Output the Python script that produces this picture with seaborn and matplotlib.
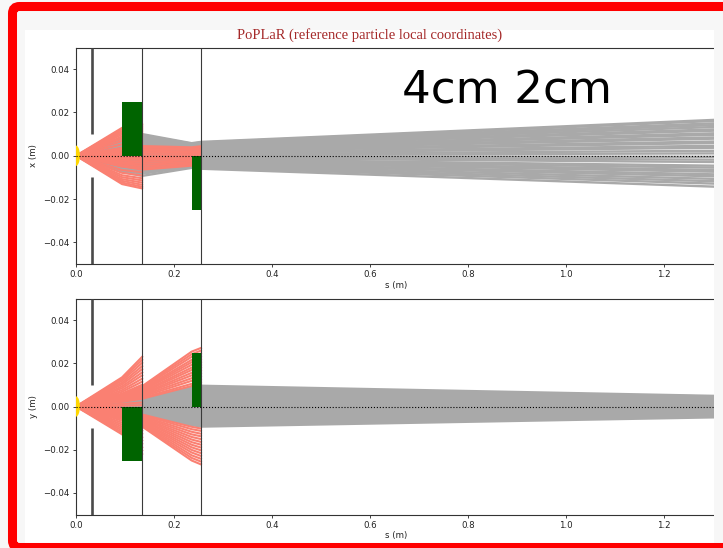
import matplotlib
matplotlib.use("Agg")
import matplotlib.pyplot as plt
from matplotlib.patches import Rectangle, Ellipse, FancyBboxPatch
from matplotlib.transforms import IdentityTransform
import pandas as pd
import seaborn as sns

# Longitudinal sampling points along the beamline (m)
s_nodes = [0.0, 0.094, 0.135, 0.236, 0.255, 1.306]

# Horizontal offsets (mm) at s_nodes[1:] for particles transported to the end
x_kept_mm = [
    [8.0, 10.0, 5.8, 6.4, 16.6],
    [7.6, 9.5, 5.6, 6.1, 16.1],
    [7.1, 8.9, 5.3, 5.8, 15.0],
    [6.8, 8.5, 5.0, 5.5, 14.2],
    [6.3, 7.9, 4.7, 5.1, 13.3],
    [5.9, 7.3, 4.4, 4.8, 12.2],
    [5.4, 6.8, 4.0, 4.4, 11.6],
    [5.0, 6.2, 3.7, 4.0, 10.4],
    [4.5, 5.6, 3.3, 3.6, 9.7],
    [4.0, 5.0, 3.0, 3.3, 8.5],
    [3.5, 4.4, 2.6, 2.9, 7.9],
    [3.0, 3.8, 2.3, 2.5, 6.6],
    [2.5, 3.1, 1.9, 2.1, 5.9],
    [2.0, 2.5, 1.5, 1.6, 4.6],
    [1.4, 1.8, 1.1, 1.2, 3.7],
    [0.9, 1.1, 0.7, 0.7, 2.3],
    [0.3, 0.4, 0.2, 0.3, 1.1],
    [-0.3, -0.4, -0.2, -0.3, -0.5],
    [-0.8, -1.0, -0.6, -0.7, -1.8],
    [-1.4, -1.7, -1.0, -1.1, -2.9],
    [-2.0, -2.5, -1.5, -1.6, -4.6],
    [-2.6, -3.2, -1.9, -2.1, -5.5],
    [-3.1, -3.9, -2.3, -2.5, -6.6],
    [-3.7, -4.6, -2.7, -3.0, -7.4],
    [-4.3, -5.3, -3.1, -3.5, -8.6],
    [-4.9, -6.0, -3.5, -3.9, -9.5],
    [-5.5, -6.7, -4.0, -4.4, -10.7],
    [-6.1, -7.5, -4.5, -4.9, -11.8],
    [-6.8, -8.3, -5.0, -5.4, -12.9],
    [-7.5, -9.3, -5.6, -6.0, -14.3],
]

# Horizontal offsets (mm) of lost particles, recorded up to the element where they hit the aperture
x_lost_mm = [
    [12.9, 14.7], [12.2, 13.9], [11.4, 13.0], [10.6, 12.1], [9.8, 11.2],
    [8.9, 10.2], [8.0, 9.2], [6.8, 7.8], [5.3, 6.1], [3.7, 4.2],
    [2.0, 2.3], [0.3, 0.3], [-1.5, -1.7], [-3.3, -3.8], [-5.0, -5.7],
    [-6.6, -7.6], [-7.9, -9.1], [-9.0, -10.4], [-9.9, -11.4], [-10.8, -12.4],
    [-11.6, -13.4], [-12.4, -14.3], [-13.1, -15.1],
    [3.4, 4.5, 3.9, 4.4], [2.9, 3.8, 3.3, 3.7], [2.3, 3.1, 2.7, 3.0],
    [1.7, 2.3, 2.0, 2.2], [1.1, 1.5, 1.3, 1.4], [0.5, 0.7, 0.6, 0.7],
    [-0.2, -0.3, -0.2, -0.2], [-0.8, -1.1, -0.8, -0.9], [-1.5, -2.0, -1.5, -1.6],
    [-2.2, -2.9, -2.1, -2.3], [-2.9, -3.8, -2.8, -3.0], [-3.6, -4.7, -3.4, -3.7],
    [-4.3, -5.6, -4.0, -4.4], [-4.9, -6.4, -4.6, -5.0],
]

# Vertical offsets (mm) at s_nodes[1:] for particles transported to the end
y_kept_mm = [
    [2.3, 3.6, 8.9, 9.6, 4.9],
    [2.1, 3.4, 8.3, 8.9, 4.6],
    [2.0, 3.1, 7.6, 8.3, 4.1],
    [1.8, 2.8, 7.0, 7.6, 3.9],
    [1.7, 2.6, 6.4, 6.9, 3.5],
    [1.5, 2.4, 5.8, 6.3, 3.3],
    [1.4, 2.1, 5.3, 5.7, 2.8],
    [1.2, 1.9, 4.6, 5.0, 2.6],
    [1.0, 1.6, 4.0, 4.3, 2.1],
    [0.9, 1.4, 3.4, 3.7, 1.9],
    [0.7, 1.1, 2.8, 3.0, 1.5],
    [0.6, 0.9, 2.1, 2.3, 1.2],
    [0.4, 0.6, 1.5, 1.6, 0.8],
    [0.2, 0.4, 0.9, 1.0, 0.5],
    [0.1, 0.1, 0.3, 0.3, 0.2],
    [-0.1, -0.1, -0.3, -0.3, -0.2],
    [-0.2, -0.4, -0.9, -0.9, -0.5],
    [-0.4, -0.6, -1.5, -1.6, -0.9],
    [-0.6, -0.9, -2.1, -2.2, -1.2],
    [-0.7, -1.1, -2.7, -2.9, -1.6],
    [-0.9, -1.4, -3.3, -3.5, -1.9],
    [-1.0, -1.7, -3.9, -4.2, -2.3],
    [-1.2, -1.9, -4.5, -4.8, -2.6],
    [-1.4, -2.2, -5.1, -5.5, -3.0],
    [-1.5, -2.4, -5.6, -6.1, -3.3],
    [-1.7, -2.7, -6.2, -6.7, -3.6],
    [-1.8, -2.9, -6.8, -7.3, -4.0],
    [-2.0, -3.2, -7.4, -8.0, -4.3],
    [-2.1, -3.4, -8.0, -8.6, -4.6],
    [-2.3, -3.7, -8.6, -9.3, -5.0],
]

# Vertical offsets (mm) of lost particles
y_lost_mm = [
    [13.5, 23.0], [12.7, 21.6], [11.9, 20.2], [11.0, 18.7], [10.2, 17.3],
    [9.3, 15.8], [8.5, 14.4], [7.6, 12.9], [6.8, 11.5], [6.0, 10.1],
    [1.2, 1.9], [0.4, 0.6], [-0.6, -0.9], [-1.4, -2.2],
    [-5.8, -9.8], [-6.6, -11.2], [-7.5, -12.7], [-8.4, -14.3], [-9.3, -15.8],
    [-10.2, -17.3], [-11.1, -18.9], [-12.0, -20.4], [-12.9, -22.0],
    [5.7, 9.4, 25.4, 27.1], [5.4, 9.0, 24.2, 25.9], [5.2, 8.6, 23.0, 24.6],
    [4.9, 8.1, 21.6, 23.2], [4.6, 7.7, 20.5, 22.0], [4.4, 7.3, 19.3, 20.7],
    [4.1, 6.8, 18.0, 19.4], [3.8, 6.4, 16.9, 18.2], [3.6, 5.9, 15.6, 16.8],
    [3.3, 5.5, 14.4, 15.5], [3.0, 5.0, 13.1, 14.1], [2.7, 4.5, 11.9, 12.8],
    [2.4, 4.0, 10.5, 11.3], [2.2, 3.6, 9.5, 10.2],
    [-5.6, -9.3, -25.0, -26.8], [-5.3, -8.9, -23.8, -25.5], [-5.1, -8.4, -22.6, -24.2],
    [-4.8, -8.0, -21.3, -22.9], [-4.5, -7.5, -20.1, -21.6], [-4.3, -7.1, -18.9, -20.3],
    [-4.0, -6.6, -17.7, -19.0], [-3.7, -6.2, -16.5, -17.7], [-3.5, -5.7, -15.3, -16.4],
    [-3.2, -5.3, -14.1, -15.1], [-2.9, -4.8, -12.9, -13.8], [-2.6, -4.4, -11.7, -12.6],
    [-2.4, -3.9, -10.5, -11.3], [-2.2, -3.7, -9.4, -10.2],
]

# Beamline elements
quad_start = [0.094, 0.236]
quad_end = [0.135, 0.255]
quad_sign_x = [1, -1]
quad_sign_y = [-1, 1]
quad_marker_height = 0.025
collimator_s = 0.032
collimator_half_gap = 0.010
element_edges = [0.135, 0.255]
source_half_length = 0.008
source_half_width = 0.0047

s_limits = (0.0, 1.306)
offset_limits = (-0.05, 0.05)
s_ticks = [0.0, 0.2, 0.4, 0.6, 0.8, 1.0, 1.2]
offset_ticks = [-0.04, -0.02, 0.0, 0.02, 0.04]

W, H = 723, 548
TICK_SIZE = 6.2


def tracks_frame(rows):
    records = []
    for i, row in enumerate(rows):
        for s, v in zip(s_nodes, [0.0] + list(row)):
            records.append((i, s, v / 1000.0))
    return pd.DataFrame(records, columns=["track", "s", "pos"])


def px_box(left, top, right, bottom):
    return [left / W, 1 - bottom / H, (right - left) / W, (bottom - top) / H]


def draw_panel(ax, kept, lost, signs, ylabel):
    sns.lineplot(data=tracks_frame(kept), x="s", y="pos", units="track",
                 estimator=None, sort=False, color="darkgray", linewidth=1.7,
                 ax=ax, zorder=2, legend=False)
    sns.lineplot(data=tracks_frame(lost), x="s", y="pos", units="track",
                 estimator=None, sort=False, color="salmon", linewidth=1.5,
                 ax=ax, zorder=2.1, legend=False)
    widths = [e - s for s, e in zip(quad_start, quad_end)]
    ax.bar(quad_start, [sg * quad_marker_height for sg in signs], width=widths,
           align="edge", color="darkgreen", linewidth=0, zorder=3)
    ax.vlines([collimator_s, collimator_s],
              [collimator_half_gap, offset_limits[0]],
              [offset_limits[1], -collimator_half_gap],
              color="#4a4a4a", linewidth=1.9, zorder=3.5)
    ax.vlines(element_edges, offset_limits[0], offset_limits[1],
              color="#3a3a3a", linewidth=0.8, zorder=3.5)
    ax.axhline(0.0, color="black", linestyle=":", linewidth=0.8, zorder=5)
    ax.add_patch(Ellipse((0.0, 0.0), 2 * source_half_length, 2 * source_half_width,
                         facecolor="gold", edgecolor="none", zorder=4))
    ax.set_xlim(*s_limits)
    ax.set_ylim(*offset_limits)
    ax.set_xticks(s_ticks)
    ax.set_yticks(offset_ticks)
    ax.set_xticklabels([f"{v:.1f}" for v in s_ticks])
    ax.set_yticklabels([f"{v:.2f}".replace("-", "\u2212") for v in offset_ticks])
    ax.tick_params(labelsize=TICK_SIZE, length=2.5, width=0.6, pad=2,
                   colors="#222222")
    ax.set_xlabel("s (m)", fontsize=TICK_SIZE, labelpad=1, color="#222222")
    ax.set_ylabel(ylabel, fontsize=TICK_SIZE, labelpad=4, color="#222222")
    ax.set_facecolor("white")
    ax.grid(False)
    for side in ("left", "top", "bottom"):
        ax.spines[side].set_linewidth(0.8)
        ax.spines[side].set_color("#333333")
    ax.spines["right"].set_visible(False)


fig = plt.figure(figsize=(W / 100, H / 100), dpi=100, facecolor="#f7f7f7")

# page area behind the figure
fig.add_artist(Rectangle((25, H - 543), 714 - 25, 543 - 30, transform=IdentityTransform(),
                         facecolor="white", edgecolor="none", zorder=-1))

ax_x = fig.add_axes(px_box(76, 47.5, 716, 264))
ax_y = fig.add_axes(px_box(76, 298.5, 716, 514.5))
draw_panel(ax_x, x_kept_mm, x_lost_mm, quad_sign_x, "x (m)")
draw_panel(ax_y, y_kept_mm, y_lost_mm, quad_sign_y, "y (m)")

fig.text(370 / W, 1 - 35.5 / H, "PoPLaR (reference particle local coordinates)",
         ha="center", va="center", family="Liberation Serif", fontsize=10.5,
         color="#a52a2a")
fig.text(402 / W, 1 - 103 / H, "4cm 2cm", ha="left", va="baseline",
         family="DejaVu Sans", fontsize=32.6, color="black", zorder=6)

# right margin of the page and the highlight frame
fig.add_artist(Rectangle((714, 0), 12, H, transform=IdentityTransform(),
                         facecolor="#f7f7f7", edgecolor="none", zorder=8))
fig.add_artist(FancyBboxPatch((12.5, 0.5), 740, 541, transform=IdentityTransform(),
                              boxstyle="round,pad=0,rounding_size=7",
                              facecolor="none", edgecolor="#ff0000",
                              linewidth=6.5, zorder=9))

fig.savefig("out.png", dpi=100, facecolor=fig.get_facecolor())
